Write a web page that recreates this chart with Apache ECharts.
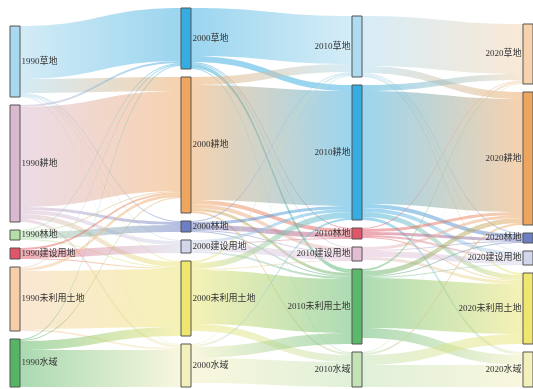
<!DOCTYPE html>
<html lang="zh">
<head>
    <meta charset="UTF-8">
    <title>sankey</title>
    <script src="https://cdn.jsdelivr.net/npm/echarts@6/dist/echarts.min.js"></script>
    <style>
        html, body { margin: 0; padding: 0; background: #fff; }
        #main { width: 533px; height: 389px; }
    </style>
</head>
<body>
<div id="main"></div>
<script type="text/javascript">
// 年份与地类
var years = ['1990', '2000', '2010', '2020'];
var landTypes = ['草地', '耕地', '林地', '建设用地', '未利用土地', '水域'];

// 转移矩阵: 行 = 前一期地类, 列 = 后一期地类
var flows1990to2000 = [
    [53, 14, 1, 1, 1, 1],
    [2, 100, 3, 4, 5, 3],
    [1, 1, 7, 0, 1, 0],
    [0, 2, 0, 8, 1, 0],
    [1, 3, 0, 0, 58, 2],
    [1, 1, 0, 0, 9, 37]
];
var flows2000to2010 = [
    [48, 6, 1, 1, 4, 1],
    [8, 115, 4, 4, 3, 2],
    [1, 3, 5, 1, 1, 0],
    [0, 3, 1, 7, 2, 0],
    [2, 6, 0, 1, 54, 7],
    [1, 2, 0, 0, 11, 25]
];
var flows2010to2020 = [
    [50, 7, 1, 1, 2, 0],
    [6, 113, 4, 4, 5, 3],
    [1, 3, 3, 2, 1, 0],
    [0, 3, 1, 6, 3, 0],
    [2, 5, 1, 1, 50, 10],
    [1, 2, 0, 0, 10, 22]
];

// 每一期节点颜色
var colors1990 = ['#a9d9ee', '#dab8d0', '#b3e0a6', '#e25568', '#f6cfa8', '#55b564'];
var colors2000 = ['#37ace0', '#eea65f', '#6d7fc4', '#d2d6ea', '#eee66e', '#f4f0bc'];
var colors2010 = ['#addbf0', '#37ace0', '#e25568', '#e3bdd4', '#5cb86a', '#c3e2b6'];
var colors2020 = ['#f6d3ad', '#eea65f', '#6d7fc4', '#d2d6ea', '#eee66e', '#f4f0bc'];

var allColors = [colors1990, colors2000, colors2010, colors2020];
var allFlows = [flows1990to2000, flows2000to2010, flows2010to2020];

var nodes = [];
years.forEach(function (y, yi) {
    landTypes.forEach(function (t, ti) {
        nodes.push({
            name: y + t,
            itemStyle: { color: allColors[yi][ti] },
            label: { position: yi < 2 ? 'right' : 'left' }
        });
    });
});

var links = [];
allFlows.forEach(function (m, k) {
    m.forEach(function (row, i) {
        row.forEach(function (v, j) {
            if (v > 0) {
                links.push({
                    source: years[k] + landTypes[i],
                    target: years[k + 1] + landTypes[j],
                    value: v
                });
            }
        });
    });
});

var myChart = echarts.init(document.getElementById('main'));
myChart.setOption({
    animation: false,
    series: [{
        type: 'sankey',
        left: 10,
        right: 0,
        top: 8,
        bottom: 2,
        nodeWidth: 10,
        nodeGap: 8,
        draggable: false,
        emphasis: { disabled: true },
        data: nodes,
        links: links,
        itemStyle: { borderColor: '#555', borderWidth: 1 },
        lineStyle: { color: 'gradient', opacity: 0.5, curveness: 0.5 },
        label: {
            distance: 1,
            fontSize: 9,
            color: '#333',
            fontFamily: '"Liberation Serif", "Noto Sans CJK SC", serif'
        }
    }]
});
</script>
</body>
</html>
